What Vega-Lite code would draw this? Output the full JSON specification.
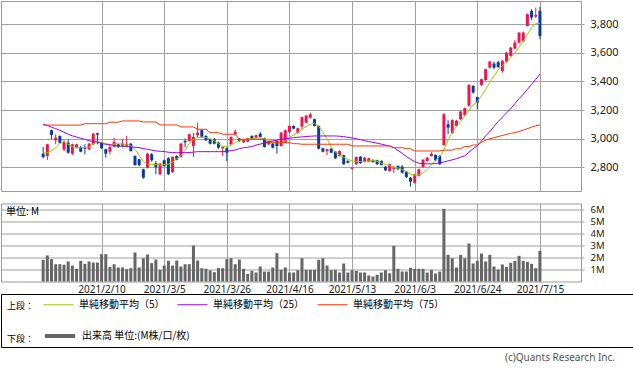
{
 "$schema": "https://vega.github.io/schema/vega-lite/v6.json",
 "padding": 0,
 "background": "white",
 "bounds": "flush",
 "spacing": 12.5,
 "config": {
  "font": "Noto Sans",
  "view": {"stroke": "#999999"},
  "axis": {"gridColor": "#a0a0a0", "gridOpacity": 1, "domain": false, "title": null, "labelColor": "#222222", "tickColor": "#a0a0a0"}
 },
 "resolve": {"scale": {"color": "independent"}, "legend": {"color": "independent"}},
 "datasets": {
  "d": [
{"i":0,"o":2895,"h":2942,"l":2863,"c":2872,"v":1.81,"m5":2902,"m25":3101,"m75":3095},
{"i":1,"o":2879,"h":2965,"l":2851,"c":2961,"v":2.17,"m5":2902,"m25":3092,"m75":3095},
{"i":2,"o":3059,"h":3062,"l":2996,"c":3026,"v":1.86,"m5":2915,"m25":3080,"m75":3095},
{"i":3,"o":2989,"h":3031,"l":2961,"c":3007,"v":1.44,"m5":2937,"m25":3070,"m75":3095},
{"i":4,"o":3019,"h":3023,"l":2965,"c":2972,"v":1.44,"m5":2965,"m25":3059,"m75":3095},
{"i":5,"o":2925,"h":2989,"l":2912,"c":2978,"v":1.39,"m5":2980,"m25":3045,"m75":3095},
{"i":6,"o":2972,"h":2996,"l":2895,"c":2902,"v":1.67,"m5":2960,"m25":3031,"m75":3095},
{"i":7,"o":2895,"h":2965,"l":2886,"c":2961,"v":1.33,"m5":2945,"m25":3020,"m75":3095},
{"i":8,"o":2937,"h":2965,"l":2932,"c":2961,"v":1.06,"m5":2937,"m25":3012,"m75":3095},
{"i":9,"o":2942,"h":2950,"l":2905,"c":2909,"v":1.72,"m5":2937,"m25":3003,"m75":3095},
{"i":10,"o":2942,"h":2961,"l":2891,"c":2930,"v":1.47,"m5":2937,"m25":2995,"m75":3105},
{"i":11,"o":2926,"h":2970,"l":2920,"c":2965,"v":1.67,"m5":2940,"m25":2986,"m75":3105},
{"i":12,"o":2961,"h":3040,"l":2956,"c":3035,"v":1.58,"m5":2965,"m25":2980,"m75":3105},
{"i":13,"o":3038,"h":3042,"l":2961,"c":3028,"v":1.58,"m5":2980,"m25":2976,"m75":3105},
{"i":14,"o":2972,"h":2977,"l":2928,"c":2933,"v":2.28,"m5":2975,"m25":2966,"m75":3105},
{"i":15,"o":2926,"h":2930,"l":2867,"c":2895,"v":2.28,"m5":2965,"m25":2961,"m75":3105},
{"i":16,"o":2909,"h":2961,"l":2891,"c":2942,"v":1.22,"m5":2960,"m25":2957,"m75":3115},
{"i":17,"o":2944,"h":3007,"l":2940,"c":2977,"v":1.44,"m5":2962,"m25":2952,"m75":3115},
{"i":18,"o":2961,"h":2965,"l":2935,"c":2942,"v":1.17,"m5":2965,"m25":2949,"m75":3115},
{"i":19,"o":2949,"h":2996,"l":2940,"c":2965,"v":1.17,"m5":2962,"m25":2947,"m75":3124},
{"i":20,"o":2949,"h":3019,"l":2940,"c":2965,"v":1.03,"m5":2958,"m25":2945,"m75":3124},
{"i":21,"o":2965,"h":2970,"l":2910,"c":2914,"v":1.11,"m5":2950,"m25":2942,"m75":3124},
{"i":22,"o":2879,"h":2884,"l":2810,"c":2816,"v":2.42,"m5":2925,"m25":2940,"m75":3124},
{"i":23,"o":2856,"h":2860,"l":2808,"c":2814,"v":1.17,"m5":2885,"m25":2938,"m75":3124},
{"i":24,"o":2786,"h":2790,"l":2720,"c":2727,"v":1.94,"m5":2840,"m25":2930,"m75":3117},
{"i":25,"o":2797,"h":2900,"l":2793,"c":2895,"v":2.25,"m5":2822,"m25":2926,"m75":3117},
{"i":26,"o":2891,"h":2900,"l":2840,"c":2849,"v":1.53,"m5":2820,"m25":2920,"m75":3117},
{"i":27,"o":2828,"h":2844,"l":2751,"c":2802,"v":1.83,"m5":2818,"m25":2914,"m75":3117},
{"i":28,"o":2751,"h":2830,"l":2745,"c":2825,"v":0.97,"m5":2815,"m25":2912,"m75":3096},
{"i":29,"o":2849,"h":2853,"l":2805,"c":2809,"v":1.33,"m5":2818,"m25":2910,"m75":3096},
{"i":30,"o":2863,"h":2870,"l":2745,"c":2751,"v":1.72,"m5":2822,"m25":2905,"m75":3096},
{"i":31,"o":2767,"h":2876,"l":2762,"c":2872,"v":1.33,"m5":2835,"m25":2903,"m75":3096},
{"i":32,"o":2879,"h":2884,"l":2848,"c":2853,"v":1.75,"m5":2860,"m25":2902,"m75":3096},
{"i":33,"o":2872,"h":2970,"l":2868,"c":2965,"v":1.25,"m5":2880,"m25":2902,"m75":3082},
{"i":34,"o":2984,"h":3000,"l":2940,"c":2975,"v":1.44,"m5":2920,"m25":2902,"m75":3082},
{"i":35,"o":2984,"h":3035,"l":2980,"c":3031,"v":1.44,"m5":2965,"m25":2903,"m75":3082},
{"i":36,"o":2949,"h":3040,"l":2872,"c":3012,"v":3.0,"m5":2996,"m25":2906,"m75":3082},
{"i":37,"o":3024,"h":3112,"l":3010,"c":3042,"v":1.75,"m5":3008,"m25":2909,"m75":3066},
{"i":38,"o":3059,"h":3068,"l":3005,"c":3012,"v":1.11,"m5":3012,"m25":2909,"m75":3066},
{"i":39,"o":3019,"h":3024,"l":2982,"c":2989,"v":1.06,"m5":3008,"m25":2909,"m75":3066},
{"i":40,"o":2996,"h":3000,"l":2960,"c":2965,"v":0.92,"m5":3000,"m25":2909,"m75":3042},
{"i":41,"o":2996,"h":3005,"l":2960,"c":2965,"v":0.78,"m5":2985,"m25":2909,"m75":3042},
{"i":42,"o":2972,"h":2979,"l":2930,"c":2937,"v":1.11,"m5":2965,"m25":2909,"m75":3042},
{"i":43,"o":2933,"h":2947,"l":2879,"c":2942,"v":1.11,"m5":2945,"m25":2909,"m75":3031},
{"i":44,"o":2933,"h":2940,"l":2844,"c":2902,"v":1.86,"m5":2944,"m25":2912,"m75":3031},
{"i":45,"o":2961,"h":3016,"l":2955,"c":3012,"v":1.94,"m5":2955,"m25":2916,"m75":3031},
{"i":46,"o":3031,"h":3066,"l":3026,"c":3049,"v":1.44,"m5":2972,"m25":2921,"m75":3031},
{"i":47,"o":3000,"h":3005,"l":2979,"c":2984,"v":1.83,"m5":2985,"m25":2930,"m75":2996},
{"i":48,"o":2975,"h":2996,"l":2970,"c":2990,"v":1.06,"m5":2995,"m25":2937,"m75":2996},
{"i":49,"o":2979,"h":3007,"l":2975,"c":3003,"v":0.64,"m5":2998,"m25":2940,"m75":2996},
{"i":50,"o":3019,"h":3024,"l":2998,"c":3003,"v":0.89,"m5":3000,"m25":2945,"m75":2996},
{"i":51,"o":3007,"h":3028,"l":3003,"c":3024,"v":0.75,"m5":3005,"m25":2955,"m75":2996},
{"i":52,"o":3035,"h":3045,"l":3008,"c":3012,"v":1.25,"m5":3005,"m25":2962,"m75":2996},
{"i":53,"o":3003,"h":3007,"l":2938,"c":2942,"v":0.83,"m5":2998,"m25":2970,"m75":2996},
{"i":54,"o":2961,"h":2984,"l":2956,"c":2979,"v":0.83,"m5":2990,"m25":2977,"m75":2972},
{"i":55,"o":2965,"h":2970,"l":2932,"c":2937,"v":1.17,"m5":2980,"m25":2984,"m75":2972},
{"i":56,"o":2984,"h":2989,"l":2895,"c":2949,"v":2.36,"m5":2972,"m25":2990,"m75":2972},
{"i":57,"o":2949,"h":3047,"l":2945,"c":3042,"v":0.97,"m5":2972,"m25":2996,"m75":2972},
{"i":58,"o":2972,"h":3064,"l":2968,"c":3059,"v":1.17,"m5":2985,"m25":3000,"m75":2972},
{"i":59,"o":3047,"h":3092,"l":3040,"c":3089,"v":0.75,"m5":3010,"m25":3003,"m75":2972},
{"i":60,"o":3089,"h":3094,"l":3066,"c":3070,"v":0.75,"m5":3025,"m25":3007,"m75":2965},
{"i":61,"o":3040,"h":3077,"l":3035,"c":3073,"v":0.94,"m5":3045,"m25":3010,"m75":2965},
{"i":62,"o":3085,"h":3155,"l":3066,"c":3150,"v":1.94,"m5":3066,"m25":3012,"m75":2961},
{"i":63,"o":3112,"h":3166,"l":3105,"c":3162,"v":0.97,"m5":3085,"m25":3015,"m75":2961},
{"i":64,"o":3147,"h":3182,"l":3140,"c":3170,"v":0.97,"m5":3100,"m25":3017,"m75":2961},
{"i":65,"o":3136,"h":3140,"l":3085,"c":3089,"v":0.97,"m5":3108,"m25":3019,"m75":2961},
{"i":66,"o":3089,"h":3092,"l":2925,"c":2930,"v":1.81,"m5":3085,"m25":3019,"m75":2961},
{"i":67,"o":2933,"h":2937,"l":2905,"c":2909,"v":1.94,"m5":3045,"m25":3019,"m75":2961},
{"i":68,"o":2914,"h":2930,"l":2886,"c":2926,"v":1.33,"m5":3000,"m25":3019,"m75":2961},
{"i":69,"o":2930,"h":2935,"l":2898,"c":2902,"v":0.94,"m5":2940,"m25":3019,"m75":2961},
{"i":70,"o":2909,"h":2912,"l":2858,"c":2863,"v":0.97,"m5":2905,"m25":3019,"m75":2961},
{"i":71,"o":2879,"h":2918,"l":2875,"c":2914,"v":0.75,"m5":2885,"m25":3017,"m75":2961},
{"i":72,"o":2884,"h":2888,"l":2816,"c":2821,"v":1.5,"m5":2870,"m25":3014,"m75":2961},
{"i":73,"o":2844,"h":2849,"l":2828,"c":2832,"v":0.75,"m5":2855,"m25":3010,"m75":2961},
{"i":74,"o":2790,"h":2800,"l":2784,"c":2797,"v":0.94,"m5":2845,"m25":3005,"m75":2949},
{"i":75,"o":2821,"h":2876,"l":2818,"c":2872,"v":0.89,"m5":2842,"m25":3000,"m75":2949},
{"i":76,"o":2874,"h":2879,"l":2825,"c":2828,"v":0.75,"m5":2840,"m25":2993,"m75":2949},
{"i":77,"o":2839,"h":2872,"l":2835,"c":2867,"v":0.75,"m5":2840,"m25":2986,"m75":2949},
{"i":78,"o":2839,"h":2867,"l":2835,"c":2863,"v":0.5,"m5":2845,"m25":2980,"m75":2949},
{"i":79,"o":2851,"h":2856,"l":2832,"c":2837,"v":0.42,"m5":2848,"m25":2975,"m75":2949},
{"i":80,"o":2849,"h":2853,"l":2816,"c":2821,"v":0.56,"m5":2842,"m25":2968,"m75":2949},
{"i":81,"o":2844,"h":2849,"l":2812,"c":2816,"v":0.75,"m5":2830,"m25":2962,"m75":2949},
{"i":82,"o":2804,"h":2809,"l":2774,"c":2779,"v":0.94,"m5":2820,"m25":2955,"m75":2949},
{"i":83,"o":2774,"h":2825,"l":2770,"c":2821,"v":0.69,"m5":2812,"m25":2948,"m75":2949},
{"i":84,"o":2788,"h":2809,"l":2760,"c":2795,"v":2.97,"m5":2800,"m25":2937,"m75":2937},
{"i":85,"o":2809,"h":2814,"l":2781,"c":2786,"v":1.06,"m5":2795,"m25":2918,"m75":2937},
{"i":86,"o":2805,"h":2815,"l":2755,"c":2762,"v":0.83,"m5":2785,"m25":2898,"m75":2937},
{"i":87,"o":2769,"h":2775,"l":2725,"c":2732,"v":0.83,"m5":2770,"m25":2875,"m75":2930},
{"i":88,"o":2727,"h":2732,"l":2665,"c":2700,"v":1.14,"m5":2752,"m25":2856,"m75":2930},
{"i":89,"o":2692,"h":2755,"l":2685,"c":2750,"v":1.06,"m5":2745,"m25":2840,"m75":2914},
{"i":90,"o":2739,"h":2790,"l":2735,"c":2786,"v":1.06,"m5":2746,"m25":2828,"m75":2914},
{"i":91,"o":2802,"h":2856,"l":2798,"c":2853,"v":1.06,"m5":2760,"m25":2825,"m75":2914},
{"i":92,"o":2844,"h":2872,"l":2840,"c":2867,"v":0.75,"m5":2785,"m25":2824,"m75":2914},
{"i":93,"o":2879,"h":2905,"l":2875,"c":2895,"v":0.97,"m5":2821,"m25":2824,"m75":2914},
{"i":94,"o":2886,"h":2890,"l":2842,"c":2849,"v":0.67,"m5":2850,"m25":2826,"m75":2914},
{"i":95,"o":2879,"h":2884,"l":2816,"c":2821,"v":0.83,"m5":2875,"m25":2830,"m75":2914},
{"i":96,"o":2956,"h":3178,"l":2950,"c":3171,"v":6.06,"m5":2920,"m25":2837,"m75":2920},
{"i":97,"o":3101,"h":3129,"l":3031,"c":3077,"v":2.22,"m5":2990,"m25":2845,"m75":2920},
{"i":98,"o":3040,"h":3136,"l":3035,"c":3130,"v":1.94,"m5":3045,"m25":2852,"m75":2920},
{"i":99,"o":3089,"h":3130,"l":3085,"c":3126,"v":1.17,"m5":3085,"m25":2860,"m75":2930},
{"i":100,"o":3136,"h":3194,"l":3132,"c":3190,"v":2.22,"m5":3120,"m25":2870,"m75":2930},
{"i":101,"o":3165,"h":3217,"l":3160,"c":3214,"v":1.94,"m5":3159,"m25":2880,"m75":2945},
{"i":102,"o":3230,"h":3380,"l":3224,"c":3376,"v":3.17,"m5":3200,"m25":2905,"m75":2945},
{"i":103,"o":3369,"h":3375,"l":3315,"c":3322,"v":1.5,"m5":3235,"m25":2930,"m75":2956},
{"i":104,"o":3292,"h":3292,"l":3206,"c":3252,"v":1.72,"m5":3260,"m25":2950,"m75":2956},
{"i":105,"o":3376,"h":3420,"l":3370,"c":3416,"v":2.33,"m5":3300,"m25":2985,"m75":2975},
{"i":106,"o":3410,"h":3490,"l":3405,"c":3486,"v":1.67,"m5":3345,"m25":3020,"m75":2990},
{"i":107,"o":3497,"h":3545,"l":3490,"c":3539,"v":2.22,"m5":3395,"m25":3050,"m75":3000},
{"i":108,"o":3525,"h":3540,"l":3485,"c":3497,"v":1.25,"m5":3440,"m25":3085,"m75":3007},
{"i":109,"o":3535,"h":3545,"l":3495,"c":3502,"v":1.0,"m5":3480,"m25":3120,"m75":3015},
{"i":110,"o":3474,"h":3550,"l":3462,"c":3544,"v":1.42,"m5":3510,"m25":3150,"m75":3022},
{"i":111,"o":3539,"h":3606,"l":3530,"c":3602,"v":1.22,"m5":3535,"m25":3180,"m75":3030},
{"i":112,"o":3579,"h":3642,"l":3575,"c":3637,"v":1.56,"m5":3567,"m25":3210,"m75":3037},
{"i":113,"o":3630,"h":3690,"l":3625,"c":3672,"v":1.72,"m5":3600,"m25":3245,"m75":3042},
{"i":114,"o":3672,"h":3745,"l":3665,"c":3742,"v":2.14,"m5":3640,"m25":3280,"m75":3050},
{"i":115,"o":3684,"h":3750,"l":3675,"c":3742,"v":1.72,"m5":3680,"m25":3310,"m75":3060},
{"i":116,"o":3789,"h":3875,"l":3785,"c":3871,"v":1.64,"m5":3730,"m25":3345,"m75":3070},
{"i":117,"o":3894,"h":3905,"l":3830,"c":3847,"v":1.47,"m5":3775,"m25":3380,"m75":3080},
{"i":118,"o":3854,"h":3917,"l":3845,"c":3866,"v":1.11,"m5":3805,"m25":3415,"m75":3090},
{"i":119,"o":3894,"h":3922,"l":3695,"c":3719,"v":2.56,"m5":3805,"m25":3451,"m75":3096}
  ]
 },
 "vconcat": [
  {
   "width": 580,
   "height": 190,
   "data": {"name": "d"},
   "encoding": {
    "x": {"field": "i", "type": "quantitative", "scale": {"domain": [-8.9, 127.64], "nice": false, "zero": false},
          "axis": {"values": [14, 29, 44, 59, 74, 89, 104, 119], "labels": false, "ticks": false, "grid": true}}
   },
   "layer": [
    {
     "mark": {"type": "rule", "strokeWidth": 1},
     "encoding": {
      "y": {"field": "l", "type": "quantitative", "scale": {"domain": [2634, 3963], "nice": false, "zero": false},
            "axis": {"orient": "right", "values": [2800, 3000, 3200, 3400, 3600, 3800], "format": ",d", "grid": true, "tickSize": 3, "labelPadding": 6, "labelFontSize": 11, "labelOverlap": false}},
      "y2": {"field": "h"},
      "color": {"condition": {"test": "datum.c >= datum.o", "value": "#f0134d"}, "value": "#0a3a9a"}
     }
    },
    {
     "mark": {"type": "bar", "size": 3},
     "encoding": {
      "y": {"field": "o", "type": "quantitative",
            "axis": {"orient": "right", "values": [2800, 3000, 3200, 3400, 3600, 3800], "format": ",d", "grid": true, "tickSize": 3, "labelPadding": 6, "labelFontSize": 11, "labelOverlap": false}},
      "y2": {"field": "c"},
      "color": {"condition": {"test": "datum.c >= datum.o", "value": "#f0134d"}, "value": "#0a3a9a"}
     }
    },
    {
     "transform": [{"fold": ["m5", "m25", "m75"], "as": ["series", "value"]}],
     "mark": {"type": "line", "strokeWidth": 1},
     "encoding": {
      "y": {"field": "value", "type": "quantitative",
            "axis": {"orient": "right", "values": [2800, 3000, 3200, 3400, 3600, 3800], "format": ",d", "grid": true, "tickSize": 3, "labelPadding": 6, "labelFontSize": 11, "labelOverlap": false}},
      "color": {"field": "series", "type": "nominal",
        "scale": {"domain": ["m5", "m25", "m75"], "range": ["#99cc00", "#9900ff", "#ff3300"]},
        "legend": {"orient": "none", "legendX": 6, "legendY": 288, "direction": "horizontal", "title": "上段：",
          "titleOrient": "left", "titleAnchor": "middle", "titleBaseline": "line-top", "titleLineHeight": 15, "titleFontSize": 9, "titleFontWeight": "normal", "titleFont": "Noto Sans CJK JP", "titleColor": "#000000", "titlePadding": 8,
          "symbolType": "stroke", "symbolSize": 900, "symbolStrokeWidth": 1, "labelFont": "Noto Sans CJK JP", "labelFontSize": 10, "labelColor": "#000000",
          "labelOffset": 5, "columnPadding": 10, "padding": 0,
          "labelExpr": "datum.value == 'm5' ? '単純移動平均（5）' : datum.value == 'm25' ? '単純移動平均（25）' : '単純移動平均（75）'"}}
     }
    }
   ]
  },
  {
   "width": 580,
   "height": 78,
   "data": {"name": "d"},
   "title": {"text": "単位: M", "anchor": "start", "offset": -13, "fontSize": 10, "fontWeight": "normal", "font": "Noto Sans CJK JP", "color": "#000000", "dx": 5},
   "mark": {"type": "bar", "size": 3},
   "encoding": {
    "x": {"field": "i", "type": "quantitative", "scale": {"domain": [-8.9, 127.64], "nice": false, "zero": false},
          "axis": {"values": [14, 29, 44, 59, 74, 89, 104, 119], "ticks": false, "grid": true, "labelFontSize": 10, "labelPadding": 3,
                   "labelExpr": "['2021/2/10','2021/3/5','2021/3/26','2021/4/16','2021/5/13','2021/6/3','2021/6/24','2021/7/15'][round((datum.value-14)/15)]"}},
    "y": {"field": "v", "type": "quantitative", "scale": {"domain": [0, 6.5], "nice": false},
          "axis": {"orient": "right", "values": [1, 2, 3, 4, 5, 6], "labelExpr": "datum.value + 'M'", "grid": true, "tickSize": 3, "labelPadding": 6, "labelFontSize": 9.5, "labelOverlap": false}},
    "color": {"datum": "出来高 単位:(M株/口/枚)", "scale": {"range": ["#666666"]},
      "legend": {"orient": "none", "legendX": 6, "legendY": 115.5, "direction": "horizontal", "title": "下段：",
        "titleOrient": "left", "titleAnchor": "middle", "titleBaseline": "line-top", "titleLineHeight": 15, "titleFontSize": 9, "titleFontWeight": "normal", "titleFont": "Noto Sans CJK JP", "titleColor": "#000000", "titlePadding": 8,
        "symbolType": "stroke", "symbolSize": 900, "symbolStrokeWidth": 4, "symbolStrokeColor": "#666666", "symbolOpacity": 1, "labelFont": "Noto Sans CJK JP", "labelFontSize": 10, "labelColor": "#000000",
        "labelOffset": 5, "padding": 0}}
   }
  },
  {
   "width": 632,
   "height": 53,
   "view": {"stroke": "#000000"},
   "data": {"values": [{}]},
   "mark": {"type": "rule", "opacity": 0},
   "encoding": {},
   "title": {"text": "(c)Quants Research Inc.", "orient": "bottom", "anchor": "end", "offset": 6, "fontSize": 10, "fontWeight": "normal", "color": "#555555", "dx": -18, "font": "Noto Sans"}
  }
 ]
}
